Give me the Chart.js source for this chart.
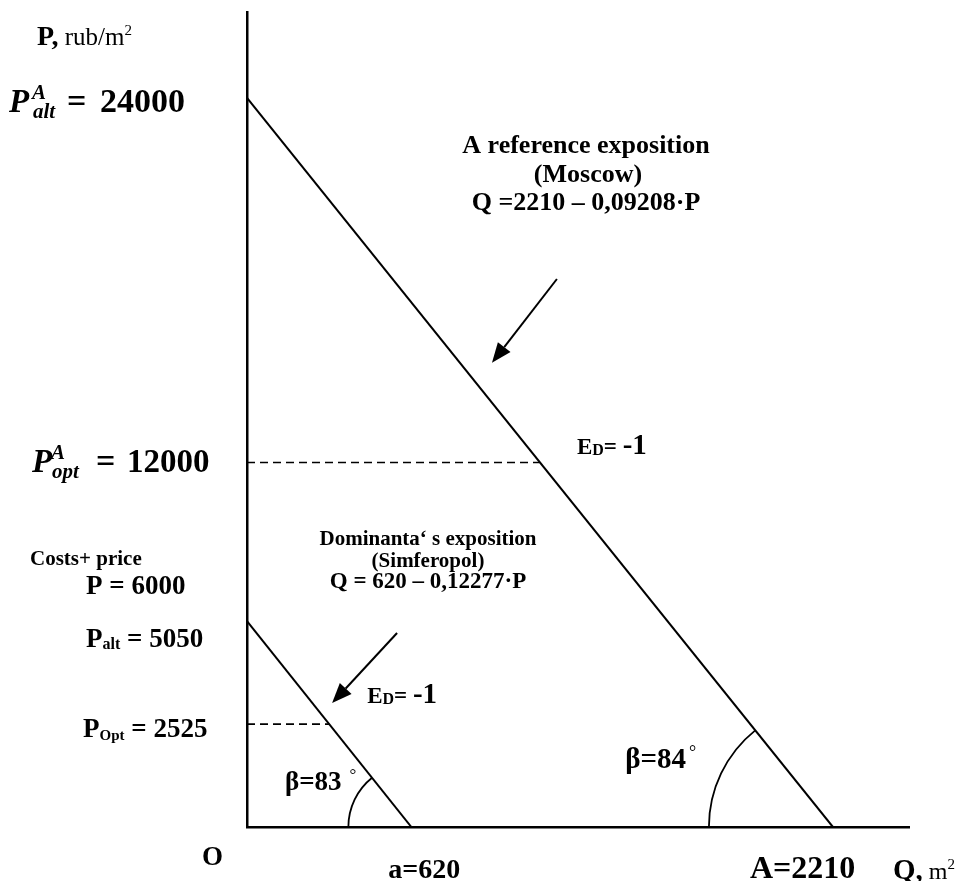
<!DOCTYPE html>
<html>
<head>
<meta charset="utf-8">
<script src="https://cdn.jsdelivr.net/npm/chart.js@4.4.0/dist/chart.umd.min.js"></script>
<style>
  body { margin: 0; background: #fff; }
</style>
</head>
<body>
<canvas id="myChart" width="960" height="881"></canvas>
<script>
// demand lines, Q in m2 against P in rub/m2
const moscowQ = [0, 2210];
const moscowP = [24000, 0];
const simfQ = [0, 620];
const simfP = [5050, 0];

// optimum points where E = -1 (Q, P)
const moscowOpt = [1105, 12000];
const simfOpt = [310, 2525];
const costPrice = 6000;

// arrows pointing to the lines: [from, to] as (Q, P)
const moscowArrow = [[1169, 18040], [924, 15280]];
const simfArrow = [[566, 4760], [321, 3040]];

const serif = '"Liberation Serif", "Times New Roman", serif';
const B = n => `bold ${n}px ${serif}`;
const BI = n => `italic bold ${n}px ${serif}`;
const R = n => `${n}px ${serif}`;

// draws a row of text pieces, a piece with stack:true shares its x with the next one
function rich(ctx, x, y, parts, align) {
    const widths = parts.map(p => { ctx.font = p.f; return ctx.measureText(p.t).width + (p.pad || 0); });
    let total = 0;
    for (let k = 0; k < parts.length; k++) {
        if (parts[k].stack) { total += Math.max(widths[k], widths[k + 1]); k++; }
        else total += widths[k];
    }
    let cx = align === 'right' ? x - total : align === 'center' ? x - total / 2 : x;
    for (let k = 0; k < parts.length; k++) {
        const p = parts[k];
        ctx.font = p.f;
        ctx.fillText(p.t, cx + (p.dx || 0), y + (p.dy || 0));
        if (p.stack) {
            const q = parts[k + 1];
            ctx.font = q.f;
            ctx.fillText(q.t, cx + (q.dx || 0), y + (q.dy || 0));
            cx += Math.max(widths[k], widths[k + 1]);
            k++;
        } else {
            cx += widths[k];
        }
    }
}

// P with super A and a subscript, then "= value", pieces at given offsets
function mathLabel(ctx, x, y, sub, value, off, size) {
    ctx.font = BI(33);
    ctx.fillText('P', x, y);
    ctx.font = BI(21);
    ctx.fillText('A', x + off[0], y - 13);
    ctx.fillText(sub, x + off[0] + 1, y + 6);
    ctx.font = B(34);
    ctx.fillText('=', x + off[1], y);
    ctx.font = B(size);
    ctx.fillText(value, x + off[2], y);
}

function arrow(ctx, x1, y1, x2, y2) {
    const a = Math.atan2(y2 - y1, x2 - x1), L = 20, W = 8;
    const bx = x2 - L * Math.cos(a), by = y2 - L * Math.sin(a);
    ctx.beginPath(); ctx.moveTo(x1, y1); ctx.lineTo(bx, by); ctx.stroke();
    ctx.beginPath();
    ctx.moveTo(x2, y2);
    ctx.lineTo(bx + W * Math.sin(a), by - W * Math.cos(a));
    ctx.lineTo(bx - W * Math.sin(a), by + W * Math.cos(a));
    ctx.closePath(); ctx.fill();
}

function angleArc(ctx, cx, cy, r, tx, ty) {
    const end = Math.atan2(ty - cy, tx - cx);
    ctx.beginPath(); ctx.arc(cx, cy, r, Math.PI, end + 2 * Math.PI); ctx.stroke();
}

const notes = {
    id: 'notes',
    afterDraw(chart) {
        const ctx = chart.ctx;
        const sx = chart.scales.x, sy = chart.scales.y, s2 = chart.scales.y2;
        const X = v => sx.getPixelForValue(v);
        const Y = v => sy.getPixelForValue(v);
        const Y2 = v => s2.getPixelForValue(v);
        const base = Y(0);

        ctx.save();
        ctx.fillStyle = '#000';
        ctx.strokeStyle = '#000';
        ctx.textBaseline = 'alphabetic';

        // axis names
        rich(ctx, 37, 45, [{ t: 'P,', f: B(28) }, { t: ' rub/m', f: R(25) }, { t: '2', f: R(15), dy: -10 }]);
        rich(ctx, 893, base + 52, [{ t: 'Q,', f: B(29) }, { t: ' m', f: R(24) }, { t: '2', f: R(15), dy: -10 }]);
        rich(ctx, X(0) - 45, base + 38, [{ t: 'O', f: B(27) }]);

        // price labels
        mathLabel(ctx, 9, Y(moscowP[0]) + 14, 'alt', '24000', [23, 58, 91], 34);
        mathLabel(ctx, 32, Y(moscowOpt[1]) + 10, 'opt', '12000', [19, 64, 95], 33);
        rich(ctx, 30, Y2(costPrice) - 18, [{ t: 'Costs+ price', f: B(21) }]);
        rich(ctx, 86, Y2(costPrice) + 11, [{ t: 'P = 6000', f: B(27) }]);
        rich(ctx, 86, Y2(simfP[0]) + 26, [{ t: 'P', f: B(27) }, { t: 'alt', f: B(16), dy: 2 }, { t: ' = 5050', f: B(27) }]);
        rich(ctx, 83, Y2(simfOpt[1]) + 13, [{ t: 'P', f: B(27) }, { t: 'Opt', f: B(15), dy: 3 }, { t: ' = 2525', f: B(27) }]);

        // quantity labels
        rich(ctx, X(simfQ[1]) - 23, base + 51, [{ t: 'a=620', f: B(28) }]);
        rich(ctx, X(moscowQ[1]) - 83, base + 51, [{ t: 'A=2210', f: B(32) }]);

        // curve descriptions
        rich(ctx, 586, 153, [{ t: 'A reference exposition', f: B(26) }], 'center');
        rich(ctx, 588, 182, [{ t: '(Moscow)', f: B(26) }], 'center');
        rich(ctx, 586, 210, [{ t: 'Q =2210 \u2013 0,09208\u00b7P', f: B(26) }], 'center');
        rich(ctx, 428, 545, [{ t: 'Dominanta\u2018 s exposition', f: B(21) }], 'center');
        rich(ctx, 428, 567, [{ t: '(Simferopol)', f: B(21) }], 'center');
        rich(ctx, 428, 588, [{ t: 'Q = 620 \u2013 0,12277\u00b7P', f: B(23) }], 'center');

        // elasticity
        rich(ctx, X(moscowOpt[0]) + 37, Y(moscowOpt[1]) - 8, [
            { t: 'E', f: B(23) }, { t: 'D', f: B(16), dy: 1 }, { t: '= ', f: B(23) }, { t: '-1', f: B(29) }]);
        rich(ctx, X(simfOpt[0]) + 38, Y2(simfOpt[1]) - 21, [
            { t: 'E', f: B(23) }, { t: 'D', f: B(16), dy: 1 }, { t: '= ', f: B(23) }, { t: '-1', f: B(29) }]);

        // angles
        rich(ctx, 285, base - 37, [{ t: '\u03b2=83', f: B(27) }, { t: '\u00b0', f: R(17), dy: -10, dx: 8 }]);
        rich(ctx, 686, base - 59, [{ t: '\u03b2=84', f: B(29) }], 'right');
        rich(ctx, 686, base - 59, [{ t: '\u00b0', f: R(18), dy: -10, dx: 3 }]);

        ctx.lineWidth = 1.8;
        angleArc(ctx, X(moscowQ[1]), base, 124, X(moscowQ[0]), Y(moscowP[0]));
        angleArc(ctx, X(simfQ[1]), base, 63, X(simfQ[0]), Y2(simfP[0]));

        ctx.lineWidth = 2;
        arrow(ctx, X(moscowArrow[0][0]), Y(moscowArrow[0][1]), X(moscowArrow[1][0]), Y(moscowArrow[1][1]));
        arrow(ctx, X(simfArrow[0][0]), Y2(simfArrow[0][1]), X(simfArrow[1][0]), Y2(simfArrow[1][1]));
        ctx.restore();
    }
};

const pts = (qs, ps) => qs.map((q, i) => ({ x: q, y: ps[i] }));

new Chart(document.getElementById('myChart'), {
    type: 'scatter',
    data: {
        datasets: [
            { data: pts(moscowQ, moscowP), yAxisID: 'y', showLine: true, borderColor: '#000', borderWidth: 2, pointRadius: 0 },
            { data: pts(simfQ, simfP), yAxisID: 'y2', showLine: true, borderColor: '#000', borderWidth: 2, pointRadius: 0 },
            { data: pts([0, moscowOpt[0]], [moscowOpt[1], moscowOpt[1]]), yAxisID: 'y', showLine: true,
              borderColor: '#000', borderWidth: 1.6, borderDash: [8, 5], pointRadius: 0 },
            { data: pts([0, simfOpt[0]], [simfOpt[1], simfOpt[1]]), yAxisID: 'y2', showLine: true,
              borderColor: '#000', borderWidth: 1.6, borderDash: [8, 5], pointRadius: 0 }
        ]
    },
    options: {
        responsive: false,
        animation: false,
        layout: { padding: { left: 247, top: 12, right: 51, bottom: 54 } },
        plugins: { legend: { display: false }, tooltip: { enabled: false } },
        scales: {
            x: {
                type: 'linear', min: 0, max: 2497,
                ticks: { display: false },
                grid: { display: false, drawTicks: false },
                border: { display: true, color: '#000', width: 2.5 }
            },
            y: {
                type: 'linear', min: 0, max: 26830,
                ticks: { display: false },
                grid: { display: false, drawTicks: false },
                border: { display: true, color: '#000', width: 2.5 }
            },
            y2: { type: 'linear', display: false, min: 0, max: 20000 }
        }
    },
    plugins: [notes]
});
</script>
</body>
</html>
